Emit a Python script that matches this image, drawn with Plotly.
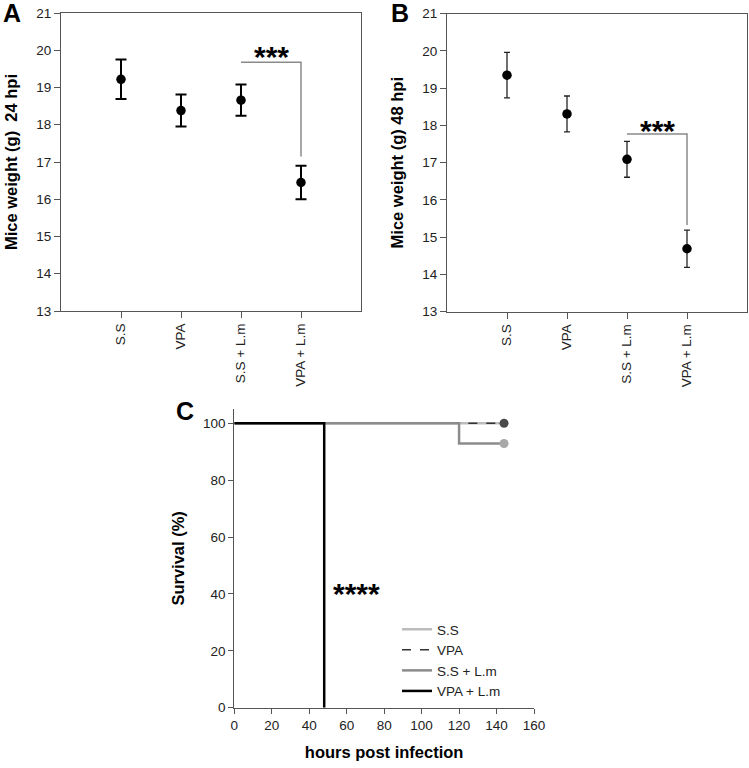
import plotly.graph_objects as go

# ---------------- data ----------------
groups = ["S.S", "VPA", "S.S + L.m", "VPA + L.m"]
weight_24 = [19.22, 18.38, 18.66, 16.45]
err_24 = [0.53, 0.43, 0.42, 0.45]
weight_48 = [19.35, 18.31, 17.09, 14.69]
err_48 = [0.61, 0.48, 0.48, 0.50]

# significance brackets (between groups 2 and 3)
bracket_24 = [19.68, 17.15]
bracket_48 = [17.77, 15.33]

# survival curves
ss_t, ss_s = [0, 144], [100, 100]
vpa_t, vpa_s = [0, 144], [100, 100]
sslm_t, sslm_s = [0, 120, 144], [100, 92.86, 92.86]
vpalm_t, vpalm_s = [0, 48], [100, 0]

ytick_w = [13, 14, 15, 16, 17, 18, 19, 20, 21]
xtick_c = [0, 20, 40, 60, 80, 100, 120, 140, 160]
ytick_c = [0, 20, 40, 60, 80, 100]

W, H = 749, 768
FONT = "Liberation Sans, Arial, sans-serif"
AX = "#555555"
TXT = "#222222"

def px(a):
    return a / W

def py(a):
    return 1 - a / H

def xd(a, b):
    return [px(a), px(b)]

def yd(top, bottom):
    return [py(bottom), py(top)]

fig = go.Figure()
idx = list(range(len(groups)))

# Panel A
fig.add_trace(go.Scatter(
    x=idx, y=weight_24, mode="markers", xaxis="x", yaxis="y",
    marker=dict(color="black", size=9.5),
    error_y=dict(type="data", array=err_24, color="black", thickness=2, width=5.5),
    showlegend=False))
# Panel B
fig.add_trace(go.Scatter(
    x=idx, y=weight_48, mode="markers", xaxis="x2", yaxis="y2",
    marker=dict(color="black", size=9.5),
    error_y=dict(type="data", array=err_48, color="#222222", thickness=1.3, width=3),
    showlegend=False))

# brackets
for xa, ya, br in (("x", "y", bracket_24), ("x2", "y2", bracket_48)):
    fig.add_trace(go.Scatter(
        x=[idx[2], idx[3], idx[3]], y=[br[0], br[0], br[1]], mode="lines",
        xaxis=xa, yaxis=ya, line=dict(color="#8a8a8a", width=1.5),
        showlegend=False, hoverinfo="skip"))

# Panel C survival
fig.add_trace(go.Scatter(x=ss_t, y=ss_s, mode="lines", line_shape="hv",
                         xaxis="x3", yaxis="y3", name="S.S",
                         line=dict(color="#bcbcbc", width=2.5)))
fig.add_trace(go.Scatter(x=vpa_t, y=vpa_s, mode="lines", line_shape="hv",
                         xaxis="x3", yaxis="y3", name="VPA",
                         line=dict(color="#333333", width=1.5, dash="dash")))
fig.add_trace(go.Scatter(x=sslm_t, y=sslm_s, mode="lines", line_shape="hv",
                         xaxis="x3", yaxis="y3", name="S.S + L.m",
                         line=dict(color="#8c8c8c", width=2.5)))
fig.add_trace(go.Scatter(x=vpalm_t, y=vpalm_s, mode="lines", line_shape="hv",
                         xaxis="x3", yaxis="y3", name="VPA + L.m",
                         line=dict(color="black", width=2.5)))
# censor dots at end
fig.add_trace(go.Scatter(x=[vpa_t[-1]], y=[vpa_s[-1]], mode="markers",
                         xaxis="x3", yaxis="y3", showlegend=False,
                         marker=dict(color="#4a4a4a", size=9)))
fig.add_trace(go.Scatter(x=[sslm_t[-1]], y=[sslm_s[-1]], mode="markers",
                         xaxis="x3", yaxis="y3", showlegend=False,
                         marker=dict(color="#a8a8a8", size=9)))

tickfont = dict(family=FONT, size=13.5, color=TXT)
titlefont = dict(family=FONT, size=16.5, color="black", weight="bold")

cat_axis = dict(range=[-1, 4], tickmode="array", tickvals=idx, ticktext=groups,
                tickangle=-90, ticks="outside", ticklen=6, tickcolor=AX,
                showline=True, linecolor=AX, linewidth=1.2, mirror=True,
                showgrid=False, zeroline=False, tickfont=tickfont)
w_axis = dict(range=[13, 21], tickmode="array", tickvals=ytick_w,
              ticks="outside", ticklen=6, tickcolor=AX,
              showline=True, linecolor=AX, linewidth=1.2, mirror=True,
              showgrid=False, zeroline=False, tickfont=tickfont)

fig.update_layout(
    width=W, height=H, margin=dict(l=0, r=0, t=0, b=0, autoexpand=False),
    paper_bgcolor="white", plot_bgcolor="white",
    font=dict(family=FONT, color=TXT),
    xaxis=dict(cat_axis, domain=xd(61, 361), anchor="y"),
    yaxis=dict(w_axis, domain=yd(13, 311), anchor="x",
               title=dict(text="Mice weight (g)  24 hpi", font=titlefont, standoff=14)),
    xaxis2=dict(cat_axis, domain=xd(447, 747), anchor="y2"),
    yaxis2=dict(w_axis, domain=yd(13.7, 311.7), anchor="x2",
                title=dict(text="Mice weight (g) 48 hpi", font=titlefont, standoff=14)),
    xaxis3=dict(range=[0, 160], tickmode="array", tickvals=xtick_c, domain=xd(234.3, 534),
                anchor="y3", ticks="outside", ticklen=5, tickcolor=AX,
                showline=True, linecolor=AX, linewidth=1.2, showgrid=False, zeroline=False,
                tickfont=tickfont,
                title=dict(text="hours post infection", font=titlefont, standoff=14)),
    yaxis3=dict(range=[0, 105], tickmode="array", tickvals=ytick_c, domain=yd(409, 707.7),
                anchor="x3", ticks="outside", ticklen=5, tickcolor=AX,
                showline=True, linecolor=AX, linewidth=1.2, showgrid=False, zeroline=False,
                tickfont=tickfont,
                title=dict(text="Survival (%)", font=titlefont, standoff=14)),
    legend=dict(x=px(397), y=py(614), xanchor="left", yanchor="top",
                bgcolor="rgba(0,0,0,0)", font=dict(family=FONT, size=13.5, color=TXT),
                tracegroupgap=0, itemwidth=30),
    showlegend=True,
)

star_font = dict(family=FONT, size=30, color="black", weight="bold")
fig.add_annotation(x=2.5, y=19.83, xref="x", yref="y", text="***", showarrow=False,
                   font=star_font, xanchor="center", yanchor="middle")
fig.add_annotation(x=2.5, y=17.86, xref="x2", yref="y2", text="***", showarrow=False,
                   font=star_font, xanchor="center", yanchor="middle")
fig.add_annotation(x=65, y=40.3, xref="x3", yref="y3", text="****", showarrow=False,
                   font=star_font, xanchor="center", yanchor="middle")

letter_font = dict(family=FONT, size=25, color="black", weight="bold")
for txt, lx, ly in (("A", 12, 13), ("B", 400, 13), ("C", 185, 411)):
    fig.add_annotation(x=px(lx), y=py(ly), xref="paper", yref="paper", text=txt,
                       showarrow=False, font=letter_font,
                       xanchor="center", yanchor="middle")

fig.write_html("out.html", config={"displayModeBar": False},
               post_script="document.body.style.margin='0px';")
